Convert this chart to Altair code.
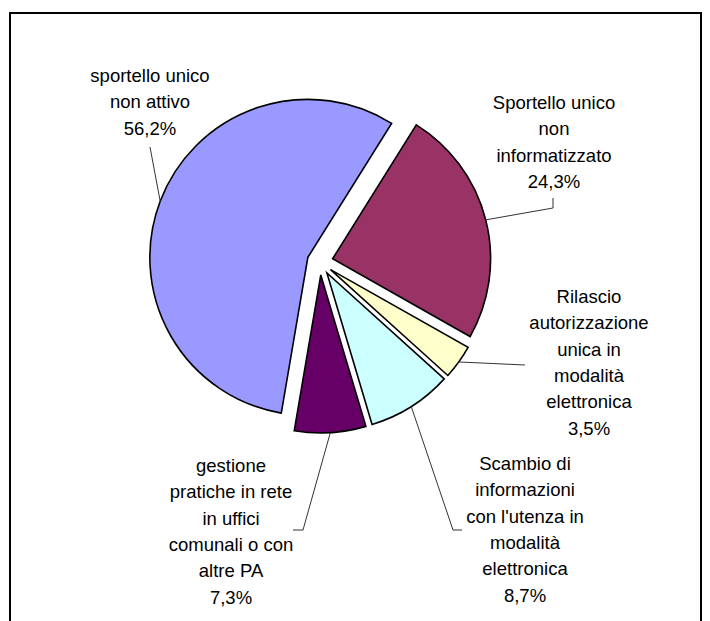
import altair as alt
import pandas as pd

# ---- data ----
categories = [
    "Sportello unico\nnon\ninformatizzato",
    "Rilascio\nautorizzazione\nunica in\nmodalità\nelettronica",
    "Scambio di\ninformazioni\ncon l'utenza in\nmodalità\nelettronica",
    "gestione\npratiche in rete\nin uffici\ncomunali o con\naltre PA",
    "sportello unico\nnon attivo",
]
shares = [24.3, 3.5, 8.7, 7.3, 56.2]

# ---- styles ----
colors = ["#993366", "#FFFFCC", "#CCFFFF", "#660066", "#9999FF"]

# ---- layout (pixel positions of label first lines and leader-line elbows) ----
label_x = [554, 589, 525, 231, 150]
label_y = [103, 297, 464, 466, 76]
elbow_x = [553, 525, 453, 303, 150]
elbow_y = [208, 365, 530, 530, 147]
tail_x = [553, 525, 462, 293, 150]
tail_y = [198, 365, 530, 530, 147]

CX, CY, R, EXPLODE, START_DEG = 320, 262, 158, 13, 32

df = pd.DataFrame({
    "order": list(range(len(shares))),
    "cat": categories,
    "share": shares,
    "color": colors,
    "lx": label_x, "ly": label_y,
    "ex": elbow_x, "ey": elbow_y,
    "tx": tail_x, "ty": tail_y,
})

base = (
    alt.Chart(df)
    .transform_window(cum="sum(share)", sort=[alt.SortField("order")], frame=[None, 0])
    .transform_calculate(
        t1=f"{START_DEG}*PI/180 + datum.cum*2*PI/100",
    )
    .transform_calculate(t0="datum.t1 - datum.share*2*PI/100")
    .transform_calculate(mid="(datum.t0 + datum.t1)/2")
    .transform_calculate(
        cx=f"{CX} + {EXPLODE}*sin(datum.mid)",
        cy=f"{CY} - {EXPLODE}*cos(datum.mid)",
    )
    .transform_calculate(
        px=f"datum.cx + {R}*sin(datum.mid)",
        py=f"datum.cy - {R}*cos(datum.mid)",
        txt="datum.cat + '\\n' + replace(format(datum.share, '.1f'), '.', ',') + '%'",
    )
)

slices = base.mark_arc(radius=R, stroke="black", strokeWidth=1.6).encode(
    x=alt.X("cx:Q", scale=None, axis=None),
    y=alt.Y("cy:Q", scale=None, axis=None),
    theta=alt.Theta("t0:Q", scale=None, stack=None),
    theta2="t1:Q",
    fill=alt.Fill("color:N", scale=None),
)

leader1 = base.mark_rule(color="#333333", strokeWidth=1).encode(
    x=alt.X("px:Q", scale=None, axis=None),
    y=alt.Y("py:Q", scale=None, axis=None),
    x2="ex:Q",
    y2="ey:Q",
)
leader2 = base.mark_rule(color="#333333", strokeWidth=1).encode(
    x=alt.X("ex:Q", scale=None, axis=None),
    y=alt.Y("ey:Q", scale=None, axis=None),
    x2="tx:Q",
    y2="ty:Q",
)

labels = base.mark_text(
    font="Liberation Sans",
    fontSize=18.5,
    lineBreak="\n",
    lineHeight=26.3,
    align="center",
    baseline="middle",
    color="black",
).encode(
    x=alt.X("lx:Q", scale=None, axis=None),
    y=alt.Y("ly:Q", scale=None, axis=None),
    text="txt:N",
)

frame = alt.Chart(pd.DataFrame({"a": [0]})).mark_rect(
    filled=False, stroke="black", strokeWidth=2
).encode(
    x=alt.value(10), x2=alt.value(701), y=alt.value(13), y2=alt.value(680)
)

chart = (
    alt.layer(frame, slices, leader1, leader2, labels)
    .properties(width=710, height=621, autosize=alt.AutoSizeParams(type="none"), padding=0, background="white")
    .configure_view(stroke=None)
)

chart.save("out.html", embed_options={"renderer": "svg", "actions": False})
